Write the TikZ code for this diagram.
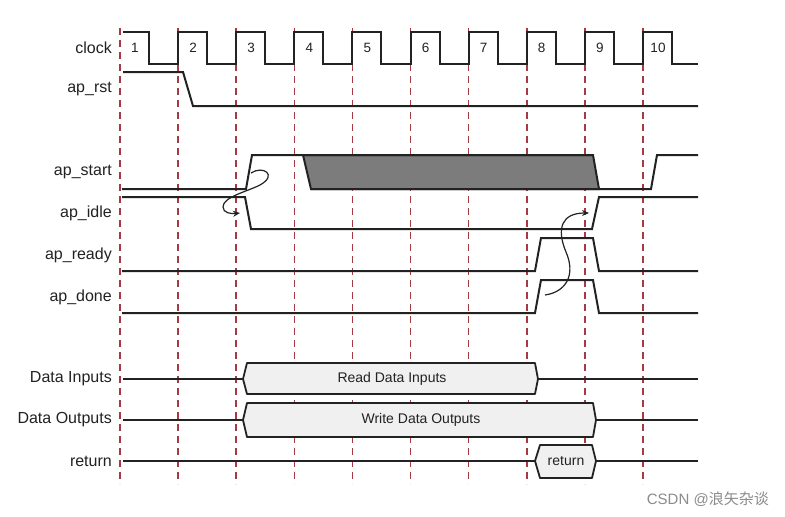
\documentclass[tikz,border=0pt]{standalone}
\usepackage{fontspec}
\setmainfont{Liberation Sans}
\newfontfamily\cjkfont{Noto Sans CJK SC}
\usetikzlibrary{arrows.meta}
\definecolor{gridred}{HTML}{A33B45}
\definecolor{sig}{HTML}{222222}
\definecolor{boxfill}{HTML}{F0F0F0}
\definecolor{shade}{HTML}{7C7C7C}
\tikzset{
  siglabel/.style={anchor=east, text=sig, font=\fontsize{16}{18}\selectfont, inner sep=0pt},
  cyclenum/.style={text=sig, font=\fontsize{13.5}{15}\selectfont, inner sep=0pt},
  boxtext/.style={text=sig, font=\fontsize{14}{16}\selectfont, inner sep=0pt},
  wave/.style={draw=sig, line width=2pt, line join=miter},
  gridline/.style={draw=gridred, line width=1.6pt, dash pattern=on 7pt off 5pt},
  databox/.style={draw=sig, line width=1.8pt, fill=boxfill, line join=round},
  causal/.style={draw=sig, line width=1.2pt, -{Stealth[length=7pt,width=6pt]}},
}
\begin{document}
\begin{tikzpicture}[x=1pt,y=-1pt]
\useasboundingbox[fill=white] (0,0) rectangle (785,517);

% vertical dashed cycle lines
\foreach \k in {0,...,9} {
  \draw[gridline] ({120+58.1*\k},28) -- ({120+58.1*\k},484);
}

% clock
\draw[wave] (123,32)
  \foreach \k in {1,...,9} { -- ({120+58.1*(\k-1)+29},32) -- ({120+58.1*(\k-1)+29},64) -- ({120+58.1*\k},64) -- ({120+58.1*\k},32) }
  -- (672,32) -- (672,64) -- (698,64);
\foreach \k in {1,...,9} {
  \node[cyclenum] (n\k) at ({120+58.1*(\k-1)+15},48) {\k};
}
\node[cyclenum] (n10) at (658,48) {10};

% labels
\node[siglabel] (lclk) at (112,48) {clock};
\node[siglabel] (lrst) at (112,89) {ap\_rst};
\node[siglabel] (lstart) at (112,172) {ap\_start};
\node[siglabel] (lidle) at (112,213) {ap\_idle};
\node[siglabel] (lready) at (112,255) {ap\_ready};
\node[siglabel] (ldone) at (112,297) {ap\_done};
\node[siglabel] (lin) at (112,379) {Data Inputs};
\node[siglabel] (lout) at (112,420) {Data Outputs};
\node[siglabel] (lret) at (112,461) {return};

% ap_rst
\draw[wave] (123,72) -- (183,72) -- (193,106) -- (698,106);

% ap_start
\draw[wave, fill=shade] (303,155) -- (593,155) -- (599,189) -- (311,189) -- cycle;
\draw[wave] (122,189) -- (246,189) -- (252,155) -- (593,155);
\draw[wave] (311,189) -- (651,189) -- (657,155) -- (698,155);

% ap_idle
\draw[wave] (122,197) -- (245,197) -- (251,229) -- (592,229) -- (599,197) -- (698,197);

% ap_ready
\draw[wave] (122,271) -- (535,271) -- (541,238) -- (593,238) -- (599,271) -- (698,271);

% ap_done
\draw[wave] (122,313) -- (535,313) -- (541,280) -- (593,280) -- (599,313) -- (698,313);

% causal arrows
\coordinate (startedge) at (251,173);
\coordinate (idleedge) at (240,213);
\coordinate (doneedge) at (545,295);
\coordinate (idlerise) at (589,213);
\draw[causal] (startedge) .. controls (263,165) and (278,175) .. (260,185)
  .. controls (246,192) and (223,197) .. (223,207)
  .. controls (223,213) and (231,214) .. (idleedge);
\draw[causal] (doneedge) .. controls (566,292) and (576,275) .. (566,252)
  .. controls (556,228) and (562,213) .. (idlerise);

% Data Inputs
\draw[wave] (123,379) -- (243,379);
\draw[databox] (247,363) -- (535,363) -- (538,379) -- (535,394) -- (247,394) -- (243,379) -- cycle;
\draw[wave] (538,379) -- (698,379);
\node[boxtext] (tin) at (392,379) {Read Data Inputs};

% Data Outputs
\draw[wave] (123,420) -- (243,420);
\draw[databox] (247,403) -- (593,403) -- (596,420) -- (593,437) -- (247,437) -- (243,420) -- cycle;
\draw[wave] (596,420) -- (698,420);
\node[boxtext] (tout) at (421,420) {Write Data Outputs};

% return
\draw[wave] (123,461) -- (535,461);
\draw[databox] (540,445) -- (592,445) -- (596,461) -- (592,478) -- (540,478) -- (535,461) -- cycle;
\draw[wave] (596,461) -- (698,461);
\node[boxtext] (tret) at (566,461) {return};

% watermark
\node[anchor=east, text=black!45, font=\fontsize{15}{17}\selectfont, inner sep=0pt] (wm) at (769,499) {CSDN @{\cjkfont 浪矢杂谈}};
\end{tikzpicture}
\end{document}
